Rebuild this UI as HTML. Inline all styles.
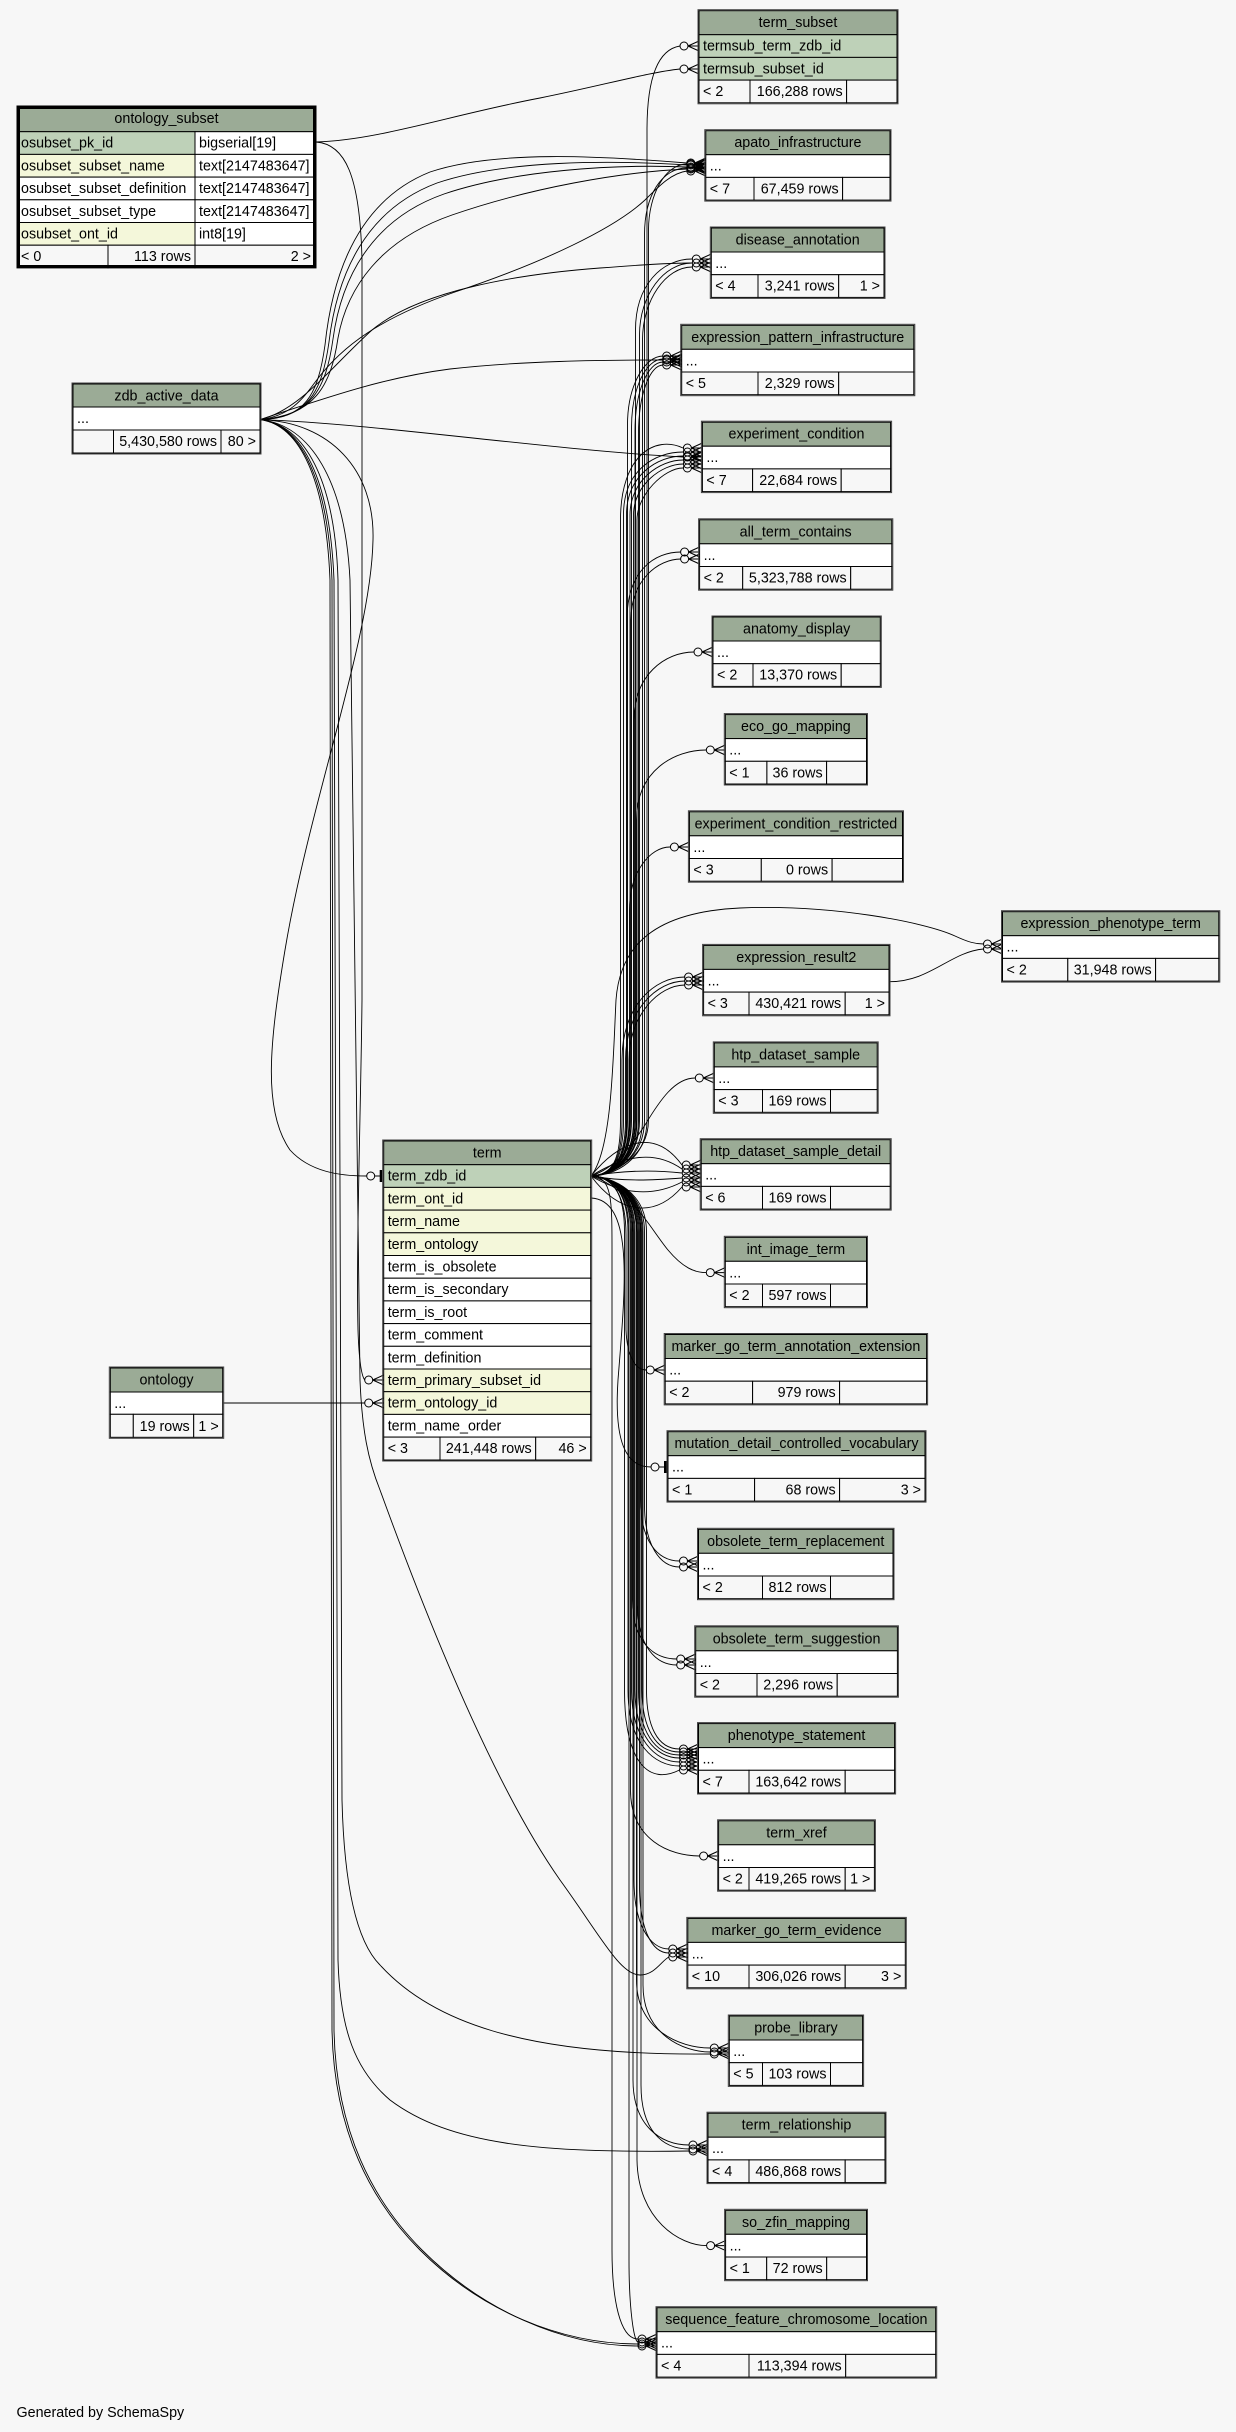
<!DOCTYPE html>
<html><head><meta charset="utf-8"><style>
html,body{margin:0;padding:0;background:#f7f7f7;}
svg{display:block;font-family:"Liberation Sans",Arial,sans-serif;font-size:14.3px;}
.h{fill:#9bab96;stroke:#000;stroke-width:1}
.w{fill:#fff;stroke:#000;stroke-width:1}
.f{fill:#f7f7f7;stroke:#000;stroke-width:1}
.k{fill:#bed1b8;stroke:#000;stroke-width:1}
.i{fill:#f4f7da;stroke:#000;stroke-width:1}
.o{fill:none;stroke:#444;stroke-width:1}
.c path{fill:none;stroke:#000;stroke-width:0.9}
.m{text-anchor:middle}.e{text-anchor:end}
</style></head><body>
<svg width="1236" height="2432" viewBox="0 0 1236 2432" xmlns="http://www.w3.org/2000/svg">
<defs>
<g id="cf"><circle cx="-15" cy="0" r="4" fill="none" stroke="#000"/><path d="M-11,0 L0,-5 M-11,0 L0,0 M-11,0 L0,5" stroke="#000" fill="none"/></g>
<g id="ob"><circle cx="-13" cy="0" r="4" fill="none" stroke="#000"/><path d="M-9,0 L-3,0" stroke="#000"/><rect x="-4" y="-6" width="2.5" height="12" fill="#000"/></g>
</defs>
<rect width="1236" height="2432" fill="#f7f7f7"/>

<g class="c">
<!-- term bundle up -->
<path d="M591,1176 C614,1176 647,1160 647,1120 L647,130 C647,85 655,50 680,46"/>
<path d="M591,1176 C614,1175 644.5,1158 644.5,1120 L644.5,235 C644.5,195 662,168 687,168"/>
<path d="M591,1176 C614,1174 648.5,1156 648.5,1120 L648.5,230 C648.5,195 665,164 687,164"/>
<path d="M591,1176 C613,1175 635.5,1160 635.5,1120 L635.5,330 C635.5,285 662,259 692,259"/>
<path d="M591,1176 C613,1175 639.5,1160 639.5,1120 L639.5,335 C639.5,295 664,263 692,263"/>
<path d="M591,1176 C613,1175 642.5,1160 642.5,1120 L642.5,340 C642.5,300 666,267 692,267"/>
<path d="M591,1176 C613,1175 627.5,1160 627.5,1120 L627.5,425 C627.5,385 645,356 663,356"/>
<path d="M591,1176 C613,1175 631.5,1160 631.5,1120 L631.5,428 C631.5,388 646,359 663,359"/>
<path d="M591,1176 C613,1175 635,1160 635,1120 L635,431 C635,391 648,362 663,362"/>
<path d="M591,1176 C613,1175 638.5,1160 638.5,1120 L638.5,434 C638.5,394 650,365 663,365"/>
<path d="M591,1176 C613,1175 620.5,1160 620.5,1120 L620.5,520 C620.5,455 655,435 683,448"/>
<path d="M591,1176 C613,1175 623.5,1160 623.5,1120 L623.5,515 C623.5,470 655,452 683,452"/>
<path d="M591,1176 C613,1175 626.5,1160 626.5,1120 L626.5,515 C626.5,475 658,456 683,456"/>
<path d="M591,1176 C613,1175 630,1160 630,1120 L630,515 C630,480 660,460 683,460"/>
<path d="M591,1176 C613,1175 633.5,1160 633.5,1120 L633.5,515 C633.5,485 662,464 683,464"/>
<path d="M591,1176 C613,1175 637,1160 637,1120 L637,520 C637,495 664,468 683,468"/>
<path d="M591,1176 C613,1175 627,1160 627,1120 L627,620 C627,570 655,552 681,552"/>
<path d="M591,1176 C613,1175 631,1160 631,1120 L631,620 C631,580 658,559 681,559"/>
<path d="M591,1176 C613,1175 634,1160 634,1120 L634,720 C634,675 665,652 694,652"/>
<path d="M591,1176 C613,1175 636.5,1160 636.5,1120 L636.5,820 C636.5,770 675,750 706,750"/>
<path d="M591,1176 C613,1175 629.5,1160 629.5,1120 L629.5,910 C629.5,872 650,847 670,847"/>
<path d="M591,1176 C612,1150 613,1060 616,1000 C620,945 655,912 740,908 C830,904 925,922 955,936 C968,942 975,944 983.5,944"/>
<path d="M591,1176 C613,1175 622,1160 622,1120 L622,1060 C622,1005 655,977 685,977"/>
<path d="M591,1176 C613,1175 625.5,1160 625.5,1120 L625.5,1060 C625.5,1010 657,981 685,981"/>
<path d="M591,1176 C613,1175 629,1160 629,1120 L629,1060 C629,1015 659,985 685,985"/>
<path d="M591,1176 C615,1168 630,1148 645,1125 C660,1100 675,1078 695,1078"/>
<path d="M591,1176 C620,1140 655,1128 682,1165"/>
<path d="M591,1176 C625,1155 655,1150 682,1169"/>
<path d="M591,1176 C625,1170 655,1170 682,1173"/>
<path d="M591,1176 C625,1182 655,1180 682,1178"/>
<path d="M591,1176 C625,1196 655,1196 682,1182"/>
<path d="M591,1176 C620,1215 655,1218 682,1187"/>
<path d="M591,1176 C630,1188 650,1228 668,1250 C683,1268 695,1272.6 706,1272.6"/>
<path d="M591,1176 C613,1177 626,1195 626,1235 L626,1330 C627,1355 635,1370 646,1370"/>
<path d="M591,1198 C635,1200 625,1290 618,1380 C614,1440 625,1467 651,1467"/>
<!-- term bundle down -->
<path d="M591,1176 C613,1177 640.5,1192 640.5,1232 L640.5,1500 C640.5,1540 657,1561 679.5,1561"/>
<path d="M591,1176 C613,1177 644.5,1192 644.5,1232 L644.5,1505 C644.5,1545 660,1567 679.5,1567"/>
<path d="M591,1176 C613,1177 632.5,1192 632.5,1232 L632.5,1600 C632.5,1640 652,1659 677,1659"/>
<path d="M591,1176 C613,1177 637.5,1192 637.5,1232 L637.5,1605 C637.5,1645 655,1665 677,1665"/>
<path d="M591,1176 C613,1177 646.5,1192 646.5,1232 L646.5,1690 C646.5,1725 657,1749 679.5,1749"/>
<path d="M591,1176 C613,1177 642,1192 642,1232 L642,1690 C642,1728 656,1752 679.5,1752"/>
<path d="M591,1176 C613,1177 638.5,1192 638.5,1232 L638.5,1690 C638.5,1731 655,1755 679.5,1755"/>
<path d="M591,1176 C613,1177 635,1192 635,1232 L635,1690 C635,1734 655,1758 679.5,1758"/>
<path d="M591,1176 C613,1177 631.5,1192 631.5,1232 L631.5,1690 C631.5,1738 655,1762 679.5,1762"/>
<path d="M591,1176 C613,1177 628,1192 628,1232 L628,1690 C628,1745 655,1766 679.5,1766"/>
<path d="M591,1176 C613,1177 624.5,1192 624.5,1232 L624.5,1690 C624.5,1765 650,1785 679.5,1770"/>
<path d="M591,1176 C613,1177 630.5,1192 630.5,1232 L630.5,1790 C630.5,1840 670,1856 699.6,1856"/>
<path d="M591,1176 C613,1177 634,1192 634,1232 L634,1880 C634,1925 650,1949 669,1949"/>
<path d="M591,1176 C613,1177 639.5,1192 639.5,1232 L639.5,1885 C639.5,1930 652,1953 669,1953"/>
<path d="M591,1176 C613,1177 636.5,1192 636.5,1232 L636.5,1980 C636.5,2030 680,2048 710,2048"/>
<path d="M591,1176 C613,1177 643,1192 643,1232 L643,1985 C643,2035 684,2052 710,2052"/>
<path d="M591,1176 C613,1177 633,1192 633,1232 L633,2080 C633,2125 660,2145 689,2145"/>
<path d="M591,1176 C613,1177 641,1192 641,1232 L641,2085 C641,2130 662,2149 689,2149"/>
<path d="M591,1176 C613,1177 637,1192 637,1232 L637,2160 C638,2220 680,2245.6 706.6,2245.6"/>
<path d="M591,1176 C613,1177 612,1200 612,1260 L612,2250 C612,2300 620,2339 638,2339"/>
<path d="M591,1176 C613,1177 629,1192 629,1232 L629,2260 C629,2310 634,2342 638,2342"/>
<!-- zdb_active_data -->
<path d="M260,419.6 C305,419 318,395 325,345 C333,270 360,200 430,172 C495,150 600,156 687,163"/>
<path d="M260,419.6 C308,418 322,392 329,342 C337,275 365,210 437,183 C505,160 610,160 687,165"/>
<path d="M260,419.6 C311,417 326,389 333,339 C341,280 370,220 444,194 C515,170 615,164 687,167"/>
<path d="M260,419.6 C314,416 331,386 338,338 C347,288 380,240 452,215 C530,188 620,172 687,169"/>
<path d="M260,419.6 C290,416 302,400 316,381 C342,346 380,318 455,292 C545,262 615,228 645,200 C660,185 672,173 687,171"/>
<path d="M260,419.6 C300,410 330,368 372,330 C420,290 520,274 600,268 C640,265 668,263 692,263"/>
<path d="M260,419.6 C320,400 380,378 450,369 C520,361 600,360 663,360"/>
<path d="M260,419.6 C380,424 550,450 683,457"/>
<path d="M260,419.6 C330,422 375,470 373,540 C371,640 310,800 285,950 C270,1040 262,1110 290,1150 C310,1172 340,1176 366.7,1176"/>
<path d="M260,419.6 C310,425 345,480 350,580 L360,1380 C362,1430 368,1460 380,1490 C420,1600 490,1780 560,1880 C600,1935 620,1975 640,1975 C655,1975 662,1960 669,1957"/>
<path d="M260,419.6 C305,425 335,480 338,580 L342,1800 C344,1880 355,1940 380,1965 C430,2020 520,2056 710,2054"/>
<path d="M260,419.6 C303,425 330,480 334,580 L338,1960 C340,2030 355,2070 390,2100 C450,2145 540,2153 689,2151"/>
<path d="M260,419.6 C300,425 326,480 330,580 L332,2030 C334,2130 370,2200 420,2250 C480,2310 560,2344 638,2344"/>
<path d="M260,419.6 C301,425 328,480 332,580 L334,2030 C336,2130 372,2200 422,2250 C482,2310 562,2346 638,2346"/>
<!-- ontology_subset -->
<path d="M316,142 C380,140 450,115 540,98 C600,86 650,72 680,69"/>
<path d="M316,142 C345,144 360,175 362,260 L362,1000 C361,1100 356,1250 358,1330 C359,1360 361,1375 364.7,1380"/>
<!-- ontology -->
<path d="M222.7,1403 L364.7,1403"/>
<!-- expression_result2 -> expression_phenotype_term -->
<path d="M889,981.7 C930,982 950,952 983.5,949"/>
</g>

<!-- markers -->
<g>
<use href="#cf" x="699" y="46"/><use href="#cf" x="699" y="69"/>
<use href="#cf" x="705.8" y="164"/><use href="#cf" x="705.8" y="168"/><use href="#cf" x="705.8" y="163"/><use href="#cf" x="705.8" y="165"/><use href="#cf" x="705.8" y="167"/><use href="#cf" x="705.8" y="169"/><use href="#cf" x="705.8" y="171"/>
<use href="#cf" x="711.3" y="259"/><use href="#cf" x="711.3" y="263"/><use href="#cf" x="711.3" y="267"/>
<use href="#cf" x="681.7" y="356"/><use href="#cf" x="681.7" y="359"/><use href="#cf" x="681.7" y="362"/><use href="#cf" x="681.7" y="365"/><use href="#cf" x="681.7" y="360"/>
<use href="#cf" x="702.4" y="448"/><use href="#cf" x="702.4" y="452"/><use href="#cf" x="702.4" y="456"/><use href="#cf" x="702.4" y="460"/><use href="#cf" x="702.4" y="464"/><use href="#cf" x="702.4" y="468"/><use href="#cf" x="702.4" y="457"/>
<use href="#cf" x="699.6" y="552"/><use href="#cf" x="699.6" y="559"/>
<use href="#cf" x="713" y="652"/>
<use href="#cf" x="725.3" y="750"/>
<use href="#cf" x="689.4" y="847"/>
<use href="#cf" x="1002.5" y="944"/><use href="#cf" x="1002.5" y="949"/>
<use href="#cf" x="703.6" y="977"/><use href="#cf" x="703.6" y="981"/><use href="#cf" x="703.6" y="985"/>
<use href="#cf" x="714.3" y="1078"/>
<use href="#cf" x="701.2" y="1165"/><use href="#cf" x="701.2" y="1169"/><use href="#cf" x="701.2" y="1173"/><use href="#cf" x="701.2" y="1178"/><use href="#cf" x="701.2" y="1182"/><use href="#cf" x="701.2" y="1187"/>
<use href="#cf" x="725.3" y="1272.6"/>
<use href="#cf" x="665.2" y="1370"/>
<use href="#ob" x="668" y="1467"/>
<use href="#cf" x="698.5" y="1561"/><use href="#cf" x="698.5" y="1567"/>
<use href="#cf" x="695.7" y="1659"/><use href="#cf" x="695.7" y="1665"/>
<use href="#cf" x="698.5" y="1749"/><use href="#cf" x="698.5" y="1752"/><use href="#cf" x="698.5" y="1755"/><use href="#cf" x="698.5" y="1758"/><use href="#cf" x="698.5" y="1762"/><use href="#cf" x="698.5" y="1766"/><use href="#cf" x="698.5" y="1770"/>
<use href="#cf" x="718.6" y="1856"/>
<use href="#cf" x="687.8" y="1949"/><use href="#cf" x="687.8" y="1953"/><use href="#cf" x="687.8" y="1957"/>
<use href="#cf" x="729.3" y="2048"/><use href="#cf" x="729.3" y="2052"/><use href="#cf" x="729.3" y="2054"/>
<use href="#cf" x="708" y="2145"/><use href="#cf" x="708" y="2149"/><use href="#cf" x="708" y="2151"/>
<use href="#cf" x="725.6" y="2245.6"/>
<use href="#cf" x="657" y="2339"/><use href="#cf" x="657" y="2342"/><use href="#cf" x="657" y="2344"/><use href="#cf" x="657" y="2346"/>
<use href="#ob" x="383.7" y="1176"/>
<use href="#cf" x="383.7" y="1380"/>
<use href="#cf" x="383.7" y="1403"/>
</g>

<!-- ontology_subset (selected) -->
<g>
<rect class="h" x="17" y="106" width="299" height="25.7"/>
<rect class="k" x="17" y="131.7" width="178" height="22.7"/><rect class="w" x="195" y="131.7" width="121" height="22.7"/>
<rect class="i" x="17" y="154.4" width="178" height="22.7"/><rect class="w" x="195" y="154.4" width="121" height="22.7"/>
<rect class="w" x="17" y="177.1" width="178" height="22.7"/><rect class="w" x="195" y="177.1" width="121" height="22.7"/>
<rect class="w" x="17" y="199.8" width="178" height="22.7"/><rect class="w" x="195" y="199.8" width="121" height="22.7"/>
<rect class="i" x="17" y="222.5" width="178" height="22.7"/><rect class="w" x="195" y="222.5" width="121" height="22.7"/>
<rect class="f" x="17" y="245.2" width="91" height="22.7"/><rect class="f" x="108" y="245.2" width="87" height="22.7"/><rect class="f" x="195" y="245.2" width="121" height="22.7"/>
<rect x="18.5" y="107.5" width="296" height="159" fill="none" stroke="#000" stroke-width="3"/>
<text class="m" x="166.5" y="123">ontology_subset</text>
<text x="21" y="147.7">osubset_pk_id</text><text x="199" y="147.7">bigserial[19]</text>
<text x="21" y="170.4">osubset_subset_name</text><text x="199" y="170.4">text[2147483647]</text>
<text x="21" y="193.1">osubset_subset_definition</text><text x="199" y="193.1">text[2147483647]</text>
<text x="21" y="215.8">osubset_subset_type</text><text x="199" y="215.8">text[2147483647]</text>
<text x="21" y="238.5">osubset_ont_id</text><text x="199" y="238.5">int8[19]</text>
<text x="21" y="261.2">&lt; 0</text><text class="e" x="191" y="261.2">113 rows</text><text class="e" x="311" y="261.2">2 &gt;</text>
</g>

<!-- zdb_active_data -->
<g>
<rect class="h" x="73" y="384" width="187" height="23"/>
<rect class="w" x="73" y="407" width="187" height="23"/>
<rect class="f" x="73" y="430" width="40.5" height="23"/><rect class="f" x="113.5" y="430" width="107.5" height="23"/><rect class="f" x="221" y="430" width="39" height="23"/>
<rect class="o" x="72" y="383" width="189" height="71"/>
<text class="m" x="166.5" y="400.5">zdb_active_data</text>
<text x="77" y="423">...</text>
<text class="e" x="217" y="446">5,430,580 rows</text><text class="e" x="256" y="446">80 &gt;</text>
</g>

<!-- ontology -->
<g>
<rect class="h" x="110.3" y="1368" width="112.4" height="24"/>
<rect class="w" x="110.3" y="1392" width="112.4" height="22.3"/>
<rect class="f" x="110.3" y="1414.3" width="23" height="23"/><rect class="f" x="133.3" y="1414.3" width="60.4" height="23"/><rect class="f" x="193.7" y="1414.3" width="29" height="23"/>
<rect class="o" x="109.3" y="1367" width="114.4" height="71.3"/>
<text class="m" x="166.5" y="1384.5">ontology</text>
<text x="114.3" y="1408">...</text>
<text class="e" x="189.7" y="1431">19 rows</text><text class="e" x="218.7" y="1431">1 &gt;</text>
</g>

<!-- term -->
<g>
<rect class="h" x="383.7" y="1141" width="207" height="23.7"/>
<rect class="k" x="383.7" y="1164.7" width="207" height="22.7"/>
<rect class="i" x="383.7" y="1187.4" width="207" height="22.7"/>
<rect class="i" x="383.7" y="1210.1" width="207" height="22.7"/>
<rect class="i" x="383.7" y="1232.8" width="207" height="22.7"/>
<rect class="w" x="383.7" y="1255.5" width="207" height="22.7"/>
<rect class="w" x="383.7" y="1278.2" width="207" height="22.7"/>
<rect class="w" x="383.7" y="1300.9" width="207" height="22.7"/>
<rect class="w" x="383.7" y="1323.6" width="207" height="22.7"/>
<rect class="w" x="383.7" y="1346.3" width="207" height="22.7"/>
<rect class="i" x="383.7" y="1369" width="207" height="22.7"/>
<rect class="i" x="383.7" y="1391.7" width="207" height="22.7"/>
<rect class="w" x="383.7" y="1414.4" width="207" height="22.7"/>
<rect class="f" x="383.7" y="1437.1" width="56.3" height="22.9"/><rect class="f" x="440" y="1437.1" width="95.7" height="22.9"/><rect class="f" x="535.7" y="1437.1" width="55" height="22.9"/>
<rect class="o" x="382.7" y="1140" width="209" height="321"/>
<text class="m" x="487.2" y="1157.5">term</text>
<text x="387.7" y="1180.7">term_zdb_id</text>
<text x="387.7" y="1203.4">term_ont_id</text>
<text x="387.7" y="1226.1">term_name</text>
<text x="387.7" y="1248.8">term_ontology</text>
<text x="387.7" y="1271.5">term_is_obsolete</text>
<text x="387.7" y="1294.2">term_is_secondary</text>
<text x="387.7" y="1316.9">term_is_root</text>
<text x="387.7" y="1339.6">term_comment</text>
<text x="387.7" y="1362.3">term_definition</text>
<text x="387.7" y="1385">term_primary_subset_id</text>
<text x="387.7" y="1407.7">term_ontology_id</text>
<text x="387.7" y="1430.4">term_name_order</text>
<text x="387.7" y="1453.1">&lt; 3</text><text class="e" x="531.7" y="1453.1">241,448 rows</text><text class="e" x="586.7" y="1453.1">46 &gt;</text>
</g>

<!-- term_subset -->
<g>
<rect class="h" x="699" y="10.7" width="198" height="24"/>
<rect class="k" x="699" y="34.7" width="198" height="22.7"/>
<rect class="k" x="699" y="57.4" width="198" height="22.7"/>
<rect class="f" x="699" y="80.1" width="51" height="22.7"/><rect class="f" x="750" y="80.1" width="96.6" height="22.7"/><rect class="f" x="846.6" y="80.1" width="50.4" height="22.7"/>
<rect class="o" x="698" y="9.7" width="200" height="94.1"/>
<text class="m" x="798" y="27.2">term_subset</text>
<text x="703" y="50.7">termsub_term_zdb_id</text>
<text x="703" y="73.4">termsub_subset_id</text>
<text x="703" y="96.1">&lt; 2</text><text class="e" x="842.6" y="96.1">166,288 rows</text>
</g>

<!-- apato_infrastructure -->
<g>
<rect class="h" x="705.8" y="130.7" width="184.2" height="24"/>
<rect class="w" x="705.8" y="154.7" width="184.2" height="22.7"/>
<rect class="f" x="705.8" y="177.4" width="48.2" height="22.7"/><rect class="f" x="754" y="177.4" width="88.6" height="22.7"/><rect class="f" x="842.6" y="177.4" width="47.4" height="22.7"/>
<rect class="o" x="704.8" y="129.7" width="186.2" height="71.4"/>
<text class="m" x="797.9" y="147.2">apato_infrastructure</text>
<text x="709.8" y="170.7">...</text>
<text x="709.8" y="193.4">&lt; 7</text><text class="e" x="838.6" y="193.4">67,459 rows</text>
</g>

<!-- disease_annotation -->
<g>
<rect class="h" x="711.3" y="228" width="172.7" height="24"/>
<rect class="w" x="711.3" y="252" width="172.7" height="22.7"/>
<rect class="f" x="711.3" y="274.7" width="46.7" height="22.7"/><rect class="f" x="758" y="274.7" width="80.7" height="22.7"/><rect class="f" x="838.7" y="274.7" width="45.3" height="22.7"/>
<rect class="o" x="710.3" y="227" width="174.7" height="71.4"/>
<text class="m" x="797.65" y="244.5">disease_annotation</text>
<text x="715.3" y="268">...</text>
<text x="715.3" y="290.7">&lt; 4</text><text class="e" x="834.7" y="290.7">3,241 rows</text><text class="e" x="880" y="290.7">1 &gt;</text>
</g>

<!-- expression_pattern_infrastructure -->
<g>
<rect class="h" x="681.7" y="325.3" width="232.1" height="24"/>
<rect class="w" x="681.7" y="349.3" width="232.1" height="22.7"/>
<rect class="f" x="681.7" y="372" width="76.3" height="22.7"/><rect class="f" x="758" y="372" width="80.7" height="22.7"/><rect class="f" x="838.7" y="372" width="75.1" height="22.7"/>
<rect class="o" x="680.7" y="324.3" width="234.1" height="71.4"/>
<text class="m" x="797.75" y="341.8">expression_pattern_infrastructure</text>
<text x="685.7" y="365.3">...</text>
<text x="685.7" y="388">&lt; 5</text><text class="e" x="834.7" y="388">2,329 rows</text>
</g>

<!-- experiment_condition -->
<g>
<rect class="h" x="702.4" y="422.2" width="188.2" height="24"/>
<rect class="w" x="702.4" y="446.2" width="188.2" height="22.7"/>
<rect class="f" x="702.4" y="468.9" width="50.2" height="22.7"/><rect class="f" x="752.6" y="468.9" width="88.6" height="22.7"/><rect class="f" x="841.2" y="468.9" width="49.4" height="22.7"/>
<rect class="o" x="701.4" y="421.2" width="190.2" height="71.4"/>
<text class="m" x="796.5" y="438.7">experiment_condition</text>
<text x="706.4" y="462.2">...</text>
<text x="706.4" y="484.9">&lt; 7</text><text class="e" x="837.2" y="484.9">22,684 rows</text>
</g>

<!-- all_term_contains -->
<g>
<rect class="h" x="699.6" y="519.8" width="192.2" height="24"/>
<rect class="w" x="699.6" y="543.8" width="192.2" height="22.7"/>
<rect class="f" x="699.6" y="566.5" width="43.1" height="22.7"/><rect class="f" x="742.7" y="566.5" width="108" height="22.7"/><rect class="f" x="850.7" y="566.5" width="41.1" height="22.7"/>
<rect class="o" x="698.6" y="518.8" width="194.2" height="71.4"/>
<text class="m" x="795.7" y="536.3">all_term_contains</text>
<text x="703.6" y="559.8">...</text>
<text x="703.6" y="582.5">&lt; 2</text><text class="e" x="846.7" y="582.5">5,323,788 rows</text>
</g>

<!-- anatomy_display -->
<g>
<rect class="h" x="713" y="617" width="167.3" height="24"/>
<rect class="w" x="713" y="641" width="167.3" height="22.7"/>
<rect class="f" x="713" y="663.7" width="40" height="22.7"/><rect class="f" x="753" y="663.7" width="88.2" height="22.7"/><rect class="f" x="841.2" y="663.7" width="39.1" height="22.7"/>
<rect class="o" x="712" y="616" width="169.3" height="71.4"/>
<text class="m" x="796.65" y="633.5">anatomy_display</text>
<text x="717" y="657">...</text>
<text x="717" y="679.7">&lt; 2</text><text class="e" x="837.2" y="679.7">13,370 rows</text>
</g>

<!-- eco_go_mapping -->
<g>
<rect class="h" x="725.3" y="714.6" width="141.2" height="24"/>
<rect class="w" x="725.3" y="738.6" width="141.2" height="22.7"/>
<rect class="f" x="725.3" y="761.3" width="41.6" height="22.7"/><rect class="f" x="766.9" y="761.3" width="59.7" height="22.7"/><rect class="f" x="826.6" y="761.3" width="39.9" height="22.7"/>
<rect class="o" x="724.3" y="713.6" width="143.2" height="71.4"/>
<text class="m" x="795.9" y="731.1">eco_go_mapping</text>
<text x="729.3" y="754.6">...</text>
<text x="729.3" y="777.3">&lt; 1</text><text class="e" x="822.6" y="777.3">36 rows</text>
</g>

<!-- experiment_condition_restricted -->
<g>
<rect class="h" x="689.4" y="811.8" width="213.1" height="24"/>
<rect class="w" x="689.4" y="835.8" width="213.1" height="22.7"/>
<rect class="f" x="689.4" y="858.5" width="71.9" height="22.7"/><rect class="f" x="761.3" y="858.5" width="70.8" height="22.7"/><rect class="f" x="832.1" y="858.5" width="70.4" height="22.7"/>
<rect class="o" x="688.4" y="810.8" width="215.1" height="71.4"/>
<text class="m" x="795.95" y="828.3">experiment_condition_restricted</text>
<text x="693.4" y="851.8">...</text>
<text x="693.4" y="874.5">&lt; 3</text><text class="e" x="828.1" y="874.5">0 rows</text>
</g>

<!-- expression_phenotype_term -->
<g>
<rect class="h" x="1002.5" y="911.7" width="216.3" height="24"/>
<rect class="w" x="1002.5" y="935.7" width="216.3" height="22.7"/>
<rect class="f" x="1002.5" y="958.4" width="65.3" height="22.7"/><rect class="f" x="1067.8" y="958.4" width="87.8" height="22.7"/><rect class="f" x="1155.6" y="958.4" width="63.2" height="22.7"/>
<rect class="o" x="1001.5" y="910.7" width="218.3" height="71.4"/>
<text class="m" x="1110.65" y="928.2">expression_phenotype_term</text>
<text x="1006.5" y="951.7">...</text>
<text x="1006.5" y="974.4">&lt; 2</text><text class="e" x="1151.6" y="974.4">31,948 rows</text>
</g>

<!-- expression_result2 -->
<g>
<rect class="h" x="703.6" y="945.4" width="185.4" height="24"/>
<rect class="w" x="703.6" y="969.4" width="185.4" height="22.7"/>
<rect class="f" x="703.6" y="992.1" width="45.4" height="22.7"/><rect class="f" x="749" y="992.1" width="96.2" height="22.7"/><rect class="f" x="845.2" y="992.1" width="43.8" height="22.7"/>
<rect class="o" x="702.6" y="944.4" width="187.4" height="71.4"/>
<text class="m" x="796.3" y="961.9">expression_result2</text>
<text x="707.6" y="985.4">...</text>
<text x="707.6" y="1008.1">&lt; 3</text><text class="e" x="841.2" y="1008.1">430,421 rows</text><text class="e" x="885" y="1008.1">1 &gt;</text>
</g>

<!-- htp_dataset_sample -->
<g>
<rect class="h" x="714.3" y="1042.9" width="162.9" height="24"/>
<rect class="w" x="714.3" y="1066.9" width="162.9" height="22.7"/>
<rect class="f" x="714.3" y="1089.6" width="48.2" height="22.7"/><rect class="f" x="762.5" y="1089.6" width="68" height="22.7"/><rect class="f" x="830.5" y="1089.6" width="46.7" height="22.7"/>
<rect class="o" x="713.3" y="1041.9" width="164.9" height="71.4"/>
<text class="m" x="795.75" y="1059.4">htp_dataset_sample</text>
<text x="718.3" y="1082.9">...</text>
<text x="718.3" y="1105.6">&lt; 3</text><text class="e" x="826.5" y="1105.6">169 rows</text>
</g>

<!-- htp_dataset_sample_detail -->
<g>
<rect class="h" x="701.2" y="1139.7" width="189" height="24"/>
<rect class="w" x="701.2" y="1163.7" width="189" height="22.7"/>
<rect class="f" x="701.2" y="1186.4" width="61.3" height="22.7"/><rect class="f" x="762.5" y="1186.4" width="68" height="22.7"/><rect class="f" x="830.5" y="1186.4" width="59.7" height="22.7"/>
<rect class="o" x="700.2" y="1138.7" width="191" height="71.4"/>
<text class="m" x="795.7" y="1156.2">htp_dataset_sample_detail</text>
<text x="705.2" y="1179.7">...</text>
<text x="705.2" y="1202.4">&lt; 6</text><text class="e" x="826.5" y="1202.4">169 rows</text>
</g>

<!-- int_image_term -->
<g>
<rect class="h" x="725.3" y="1237.3" width="141.2" height="24"/>
<rect class="w" x="725.3" y="1261.3" width="141.2" height="22.7"/>
<rect class="f" x="725.3" y="1284" width="37.2" height="22.7"/><rect class="f" x="762.5" y="1284" width="68" height="22.7"/><rect class="f" x="830.5" y="1284" width="36" height="22.7"/>
<rect class="o" x="724.3" y="1236.3" width="143.2" height="71.4"/>
<text class="m" x="795.9" y="1253.8">int_image_term</text>
<text x="729.3" y="1277.3">...</text>
<text x="729.3" y="1300">&lt; 2</text><text class="e" x="826.5" y="1300">597 rows</text>
</g>

<!-- marker_go_term_annotation_extension -->
<g>
<rect class="h" x="665.2" y="1334.5" width="261.4" height="24"/>
<rect class="w" x="665.2" y="1358.5" width="261.4" height="22.7"/>
<rect class="f" x="665.2" y="1381.2" width="87.4" height="22.7"/><rect class="f" x="752.6" y="1381.2" width="87" height="22.7"/><rect class="f" x="839.6" y="1381.2" width="87" height="22.7"/>
<rect class="o" x="664.2" y="1333.5" width="263.4" height="71.4"/>
<text class="m" x="795.9" y="1351">marker_go_term_annotation_extension</text>
<text x="669.2" y="1374.5">...</text>
<text x="669.2" y="1397.2">&lt; 2</text><text class="e" x="835.6" y="1397.2">979 rows</text>
</g>

<!-- mutation_detail_controlled_vocabulary -->
<g>
<rect class="h" x="668" y="1431.7" width="257" height="24"/>
<rect class="w" x="668" y="1455.7" width="257" height="22.7"/>
<rect class="f" x="668" y="1478.4" width="86.6" height="22.7"/><rect class="f" x="754.6" y="1478.4" width="85" height="22.7"/><rect class="f" x="839.6" y="1478.4" width="85.4" height="22.7"/>
<rect class="o" x="667" y="1430.7" width="259" height="71.4"/>
<text class="m" x="796.5" y="1448.2">mutation_detail_controlled_vocabulary</text>
<text x="672" y="1471.7">...</text>
<text x="672" y="1494.4">&lt; 1</text><text class="e" x="835.6" y="1494.4">68 rows</text><text class="e" x="921" y="1494.4">3 &gt;</text>
</g>

<!-- obsolete_term_replacement -->
<g>
<rect class="h" x="698.5" y="1529.3" width="194.5" height="24"/>
<rect class="w" x="698.5" y="1553.3" width="194.5" height="22.7"/>
<rect class="f" x="698.5" y="1576" width="64" height="22.7"/><rect class="f" x="762.5" y="1576" width="68" height="22.7"/><rect class="f" x="830.5" y="1576" width="62.5" height="22.7"/>
<rect class="o" x="697.5" y="1528.3" width="196.5" height="71.4"/>
<text class="m" x="795.75" y="1545.8">obsolete_term_replacement</text>
<text x="702.5" y="1569.3">...</text>
<text x="702.5" y="1592">&lt; 2</text><text class="e" x="826.5" y="1592">812 rows</text>
</g>

<!-- obsolete_term_suggestion -->
<g>
<rect class="h" x="695.7" y="1626.8" width="201.7" height="24"/>
<rect class="w" x="695.7" y="1650.8" width="201.7" height="22.7"/>
<rect class="f" x="695.7" y="1673.5" width="61.3" height="22.7"/><rect class="f" x="757" y="1673.5" width="80.2" height="22.7"/><rect class="f" x="837.2" y="1673.5" width="60.2" height="22.7"/>
<rect class="o" x="694.7" y="1625.8" width="203.7" height="71.4"/>
<text class="m" x="796.55" y="1643.3">obsolete_term_suggestion</text>
<text x="699.7" y="1666.8">...</text>
<text x="699.7" y="1689.5">&lt; 2</text><text class="e" x="833.2" y="1689.5">2,296 rows</text>
</g>

<!-- phenotype_statement -->
<g>
<rect class="h" x="698.5" y="1723.6" width="196.1" height="24"/>
<rect class="w" x="698.5" y="1747.6" width="196.1" height="22.7"/>
<rect class="f" x="698.5" y="1770.3" width="50.5" height="22.7"/><rect class="f" x="749" y="1770.3" width="96.2" height="22.7"/><rect class="f" x="845.2" y="1770.3" width="49.4" height="22.7"/>
<rect class="o" x="697.5" y="1722.6" width="198.1" height="71.4"/>
<text class="m" x="796.55" y="1740.1">phenotype_statement</text>
<text x="702.5" y="1763.6">...</text>
<text x="702.5" y="1786.3">&lt; 7</text><text class="e" x="841.2" y="1786.3">163,642 rows</text>
</g>

<!-- term_xref -->
<g>
<rect class="h" x="718.6" y="1820.8" width="155.8" height="24"/>
<rect class="w" x="718.6" y="1844.8" width="155.8" height="22.7"/>
<rect class="f" x="718.6" y="1867.5" width="30.4" height="22.7"/><rect class="f" x="749" y="1867.5" width="96.2" height="22.7"/><rect class="f" x="845.2" y="1867.5" width="29.2" height="22.7"/>
<rect class="o" x="717.6" y="1819.8" width="157.8" height="71.4"/>
<text class="m" x="796.5" y="1837.3">term_xref</text>
<text x="722.6" y="1860.8">...</text>
<text x="722.6" y="1883.5">&lt; 2</text><text class="e" x="841.2" y="1883.5">419,265 rows</text><text class="e" x="870.4" y="1883.5">1 &gt;</text>
</g>

<!-- marker_go_term_evidence -->
<g>
<rect class="h" x="687.8" y="1918.4" width="217.5" height="24"/>
<rect class="w" x="687.8" y="1942.4" width="217.5" height="22.7"/>
<rect class="f" x="687.8" y="1965.1" width="61.2" height="22.7"/><rect class="f" x="749" y="1965.1" width="96.2" height="22.7"/><rect class="f" x="845.2" y="1965.1" width="60.1" height="22.7"/>
<rect class="o" x="686.8" y="1917.4" width="219.5" height="71.4"/>
<text class="m" x="796.55" y="1934.9">marker_go_term_evidence</text>
<text x="691.8" y="1958.4">...</text>
<text x="691.8" y="1981.1">&lt; 10</text><text class="e" x="841.2" y="1981.1">306,026 rows</text><text class="e" x="901.3" y="1981.1">3 &gt;</text>
</g>

<!-- probe_library -->
<g>
<rect class="h" x="729.3" y="2016" width="133.3" height="24"/>
<rect class="w" x="729.3" y="2040" width="133.3" height="22.7"/>
<rect class="f" x="729.3" y="2062.7" width="33.2" height="22.7"/><rect class="f" x="762.5" y="2062.7" width="68" height="22.7"/><rect class="f" x="830.5" y="2062.7" width="32.1" height="22.7"/>
<rect class="o" x="728.3" y="2015" width="135.3" height="71.4"/>
<text class="m" x="795.95" y="2032.5">probe_library</text>
<text x="733.3" y="2056">...</text>
<text x="733.3" y="2078.7">&lt; 5</text><text class="e" x="826.5" y="2078.7">103 rows</text>
</g>

<!-- term_relationship -->
<g>
<rect class="h" x="708" y="2113.2" width="177" height="24"/>
<rect class="w" x="708" y="2137.2" width="177" height="22.7"/>
<rect class="f" x="708" y="2159.9" width="41" height="22.7"/><rect class="f" x="749" y="2159.9" width="96.2" height="22.7"/><rect class="f" x="845.2" y="2159.9" width="39.8" height="22.7"/>
<rect class="o" x="707" y="2112.2" width="179" height="71.4"/>
<text class="m" x="796.5" y="2129.7">term_relationship</text>
<text x="712" y="2153.2">...</text>
<text x="712" y="2175.9">&lt; 4</text><text class="e" x="841.2" y="2175.9">486,868 rows</text>
</g>

<!-- so_zfin_mapping -->
<g>
<rect class="h" x="725.6" y="2210.3" width="140.9" height="24"/>
<rect class="w" x="725.6" y="2234.3" width="140.9" height="22.7"/>
<rect class="f" x="725.6" y="2257" width="41.1" height="22.7"/><rect class="f" x="766.7" y="2257" width="60" height="22.7"/><rect class="f" x="826.7" y="2257" width="39.8" height="22.7"/>
<rect class="o" x="724.6" y="2209.3" width="142.9" height="71.4"/>
<text class="m" x="796.05" y="2226.8">so_zfin_mapping</text>
<text x="729.6" y="2250.3">...</text>
<text x="729.6" y="2273">&lt; 1</text><text class="e" x="822.7" y="2273">72 rows</text>
</g>

<!-- sequence_feature_chromosome_location -->
<g>
<rect class="h" x="657" y="2307.7" width="278.7" height="24"/>
<rect class="w" x="657" y="2331.7" width="278.7" height="22.7"/>
<rect class="f" x="657" y="2354.4" width="92" height="22.7"/><rect class="f" x="749" y="2354.4" width="96.7" height="22.7"/><rect class="f" x="845.7" y="2354.4" width="90" height="22.7"/>
<rect class="o" x="656" y="2306.7" width="280.7" height="71.4"/>
<text class="m" x="796.35" y="2324.2">sequence_feature_chromosome_location</text>
<text x="661" y="2347.7">...</text>
<text x="661" y="2370.4">&lt; 4</text><text class="e" x="841.7" y="2370.4">113,394 rows</text>
</g>

<text x="16.5" y="2417">Generated by SchemaSpy</text>
</svg>
</body></html>
